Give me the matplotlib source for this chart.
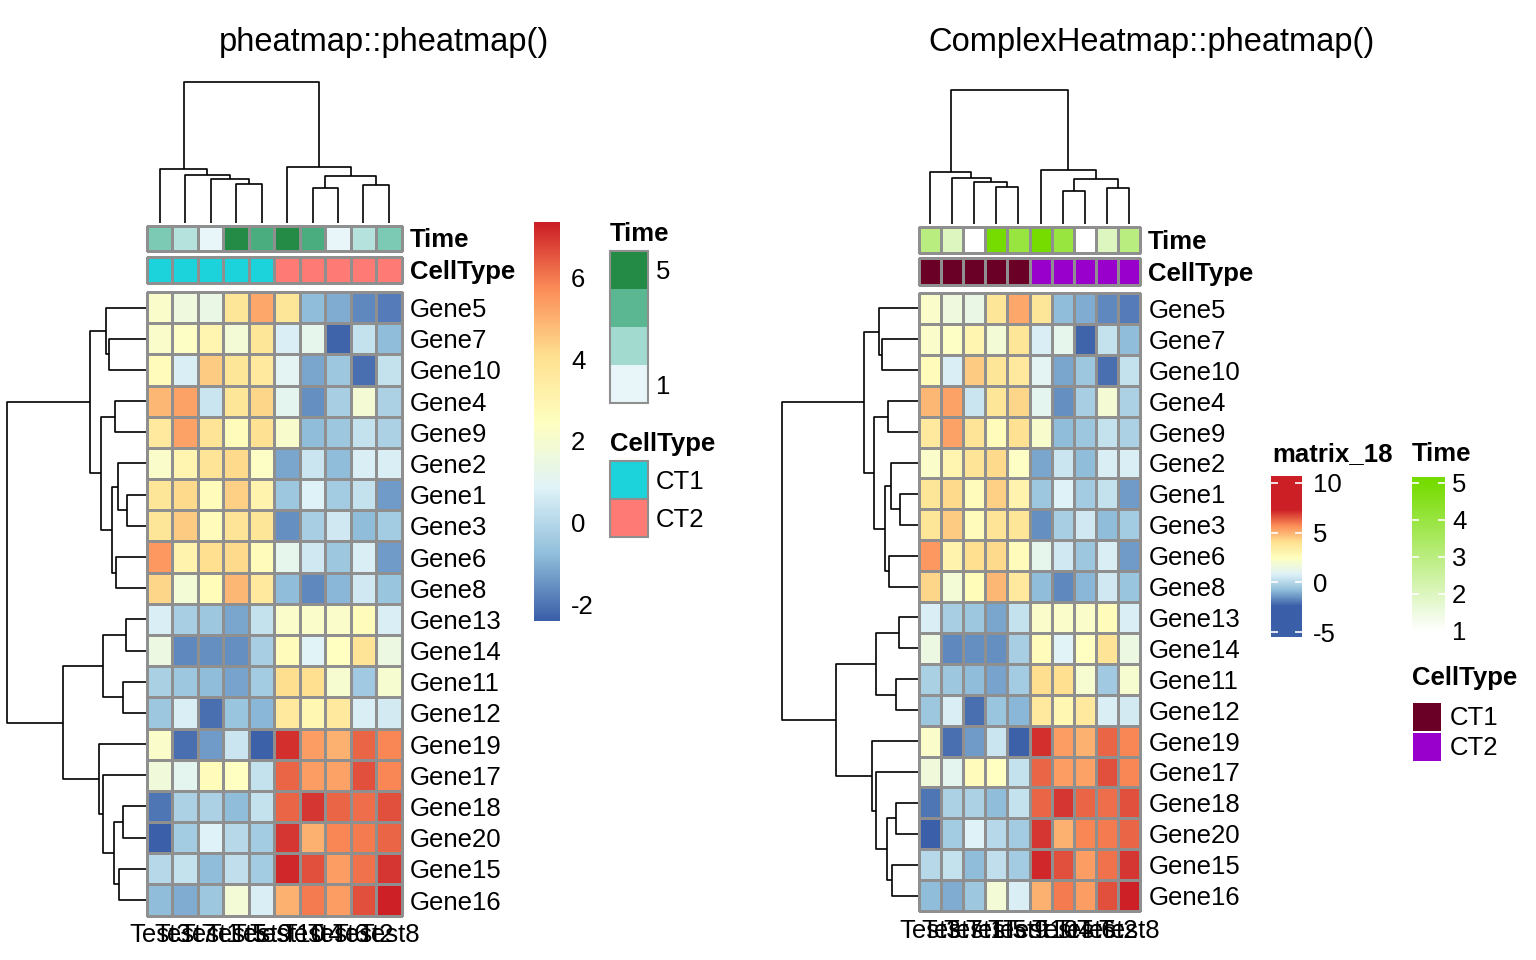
import numpy as np
import matplotlib
matplotlib.use('Agg')
import matplotlib.pyplot as plt
from matplotlib.colors import LinearSegmentedColormap, ListedColormap, Normalize
from matplotlib.patches import Rectangle

plt.rcParams['font.family'] = ['Liberation Sans', 'DejaVu Sans']

# data (rows/columns already in clustered display order)
genes = ['Gene5', 'Gene7', 'Gene10', 'Gene4', 'Gene9', 'Gene2', 'Gene1', 'Gene3', 'Gene6', 'Gene8',
         'Gene13', 'Gene14', 'Gene11', 'Gene12', 'Gene19', 'Gene17', 'Gene18', 'Gene20', 'Gene15', 'Gene16']
samples = ['Test3', 'Test7', 'Test1', 'Test5', 'Test9', 'Test10', 'Test4', 'Test6', 'Test2', 'Test8']
time = [3, 2, 1, 5, 4, 5, 4, 1, 2, 3]
cell_type = ['CT1', 'CT1', 'CT1', 'CT1', 'CT1', 'CT2', 'CT2', 'CT2', 'CT2', 'CT2']
cell_levels = ['CT1', 'CT2']

expr = np.array([
    [2.2, 1.6, 1.4, 3.8, 5.2, 3.8, -0.8, -1.1, -1.7, -1.9],
    [2.2, 2.3, 3.0, 1.8, 3.8, 0.7, 1.2, -2.3, 0.3, -0.8],
    [2.6, 0.7, 4.5, 3.8, 3.6, 1.0, -1.2, -0.5, -2.1, 0.3],
    [4.9, 5.3, 0.4, 3.8, 4.3, 1.1, -1.6, -0.3, 1.9, -0.2],
    [3.6, 5.3, 3.9, 2.6, 4.0, 2.1, -0.8, -0.5, 0.3, -0.2],
    [2.2, 3.0, 3.9, 4.2, 2.3, -1.2, 0.4, -0.8, 0.7, 0.7],
    [3.8, 4.2, 2.6, 4.4, 3.1, -0.5, 0.8, -0.4, 0.3, -1.4],
    [3.8, 4.5, 2.6, 3.9, 3.8, -1.6, -0.3, 0.5, -0.8, -0.4],
    [5.5, 3.1, 4.1, 4.2, 2.6, 1.2, 0.5, -0.5, 0.7, -1.4],
    [4.3, 1.8, 2.7, 4.9, 3.6, -0.8, -1.7, -0.9, 0.5, -0.6],
    [0.7, -0.3, -0.5, -1.2, 0.3, 2.2, 2.2, 2.2, 2.6, 0.7],
    [1.5, -1.7, -1.6, -1.6, -0.3, 2.6, 0.9, 2.4, 3.9, 1.5],
    [-0.25, -0.5, -0.8, -1.25, -0.4, 4.15, 4.1, 2.0, -0.45, 2.0],
    [-0.5, 0.7, -2.1, -0.6, -0.9, 3.6, 2.9, 3.6, 0.7, 0.6],
    [2.2, -2.1, -1.4, 0.4, -2.35, 7.1, 5.4, 5.0, 6.3, 5.8],
    [1.7, 1.1, 2.6, 2.4, 0.3, 6.3, 5.4, 5.3, 6.6, 5.8],
    [-2.0, -0.2, -0.2, -0.8, 0.3, 6.3, 7.0, 6.3, 6.2, 6.6],
    [-2.4, -0.4, 0.8, 0.0, -0.4, 7.0, 5.0, 5.8, 6.0, 6.3],
    [0.0, 0.3, -0.8, 0.2, -0.4, 7.2, 6.6, 5.4, 6.1, 7.0],
    [-0.8, -1.1, -0.5, 1.8, 0.7, 5.0, 6.0, 5.4, 6.6, 7.35],
])

# dendrograms as [left, right, height], leaves = display index
row_tree = [[[0, [1, 2, 37], 40],
             [[3, 4, 31], [[5, [6, 7, 19], 28], [8, 9, 30], 34], 45], 56],
            [[[10, 11, 20], [12, 13, 23], 43],
             [14, [15, [[16, 17, 23], [18, 19, 27], 32], 43], 47], 84], 140]
col_tree = [[0, [1, [2, [3, 4, 39], 44], 48], 54],
            [5, [[6, 7, 35], [8, 9, 38], 47], 56], 140]

time_ticks = [1, 2, 3, 4, 5]
left_bar_ticks = [-2, 0, 2, 4, 6]
right_bar_ticks = [-5, 0, 5, 10]

# colours
heat_cmap = LinearSegmentedColormap.from_list(
    'rdylbu', ['#3b5fa8', '#91BFDB', '#E0F3F8', '#FFFFBF', '#FEE090', '#FC8D59', '#cc1f26'])
heat_norm = Normalize(expr.min(), expr.max())
time_cmap_l = LinearSegmentedColormap.from_list(
    'bugn', ['#e8f6f9', '#b5e2dd', '#7ccab4', '#4aad80', '#238b45'])
time_cmap_r = LinearSegmentedColormap.from_list('grn', ['#ffffff', '#76dc00'])
time_norm = Normalize(1, 5)
ct_cols_l = ['#1dd3db', '#fd7b74']
ct_cols_r = ['#6b0026', '#9900cc']
grid_grey = '#8f8f8f'
fs = 18.5

W, H = 1536, 960
fig = plt.figure(figsize=(W / 100, H / 100), dpi=100)


def px_axes(x0, y0, x1, y1):
    return fig.add_axes([x0 / W, 1 - y1 / H, (x1 - x0) / W, (y1 - y0) / H])


def draw_tree(ax, node, orient):
    if isinstance(node, int):
        return node + 0.5, 0.0
    l, r, h = node
    pl, hl = draw_tree(ax, l, orient)
    pr, hr = draw_tree(ax, r, orient)
    pos = [pl, pl, pr, pr]
    hts = [hl, h, h, hr]
    if orient == 'top':
        ax.plot(pos, hts, color='black', lw=1.2, clip_on=False, solid_capstyle='butt')
    else:
        ax.plot(hts, pos, color='black', lw=1.2, clip_on=False, solid_capstyle='butt')
    return (pl + pr) / 2, h


def draw_heatmap(x0, x1, y0, y1, xpad):
    ax = px_axes(x0, y0, x1, y1)
    m = ax.pcolormesh(expr, cmap=heat_cmap, norm=heat_norm, edgecolors=grid_grey, linewidth=1.0)
    m.set_clip_on(False)
    ax.set_xlim(0, len(samples))
    ax.set_ylim(len(genes), 0)
    ax.set_xticks(np.arange(len(samples)) + 0.5, samples, fontsize=fs)
    ax.set_yticks(np.arange(len(genes)) + 0.5, genes, fontsize=fs)
    ax.yaxis.tick_right()
    ax.tick_params(axis='y', length=0, pad=6)
    ax.tick_params(axis='x', length=0, pad=xpad)
    for s in ax.spines.values():
        s.set_visible(False)


def draw_annotation(x0, x1, y0, y1, values, cmap, norm):
    ax = px_axes(x0, y0, x1, y1)
    m = ax.pcolormesh(np.array([values]), cmap=cmap, norm=norm, edgecolors=grid_grey, linewidth=1.0)
    m.set_clip_on(False)
    ax.set_xlim(0, len(values))
    ax.set_axis_off()


def draw_bar(x0, x1, y0, y1, lo, hi, cmap, norm, ticks, white_ticks, pad):
    ax = px_axes(x0, y0, x1, y1)
    v = np.linspace(lo, hi, 400)[:, None]
    ax.imshow(v, cmap=cmap, norm=norm, aspect='auto', origin='lower', extent=[0, 1, lo, hi])
    ax.set_ylim(lo, hi)
    ax.set_xticks([])
    ax.set_yticks(ticks, [str(t) for t in ticks], fontsize=fs)
    if white_ticks:
        ax.tick_params(axis='y', direction='in', color='white', length=5, width=1.2,
                       left=True, right=True, labelleft=False, labelright=True, pad=pad)
    else:
        ax.tick_params(axis='y', length=0, left=False, right=True,
                       labelleft=False, labelright=True, pad=pad)
    for s in ax.spines.values():
        s.set_visible(False)
    return ax


ct_codes = [cell_levels.index(c) for c in cell_type]

# ---- left: pheatmap ----
draw_heatmap(147, 401.7, 292, 915.6, 5)
draw_annotation(147, 401.7, 226, 251, time, time_cmap_l, time_norm)
draw_annotation(147, 401.7, 257, 283, ct_codes, ListedColormap(ct_cols_l), Normalize(0, 1))
ax = px_axes(147, 82, 401.7, 223)
draw_tree(ax, col_tree, 'top')
ax.set_xlim(0, len(samples)); ax.set_ylim(0, 140); ax.set_axis_off()
ax = px_axes(7, 292, 146, 915.6)
draw_tree(ax, row_tree, 'left')
ax.set_ylim(len(genes), 0); ax.set_xlim(140, 0); ax.set_axis_off()
draw_bar(534, 560, 222, 621, expr.min(), expr.max(), heat_cmap, heat_norm, left_bar_ticks, False, 8)

# ---- right: ComplexHeatmap ----
draw_heatmap(919, 1140, 293, 911, 6)
draw_annotation(919, 1140, 227, 253, time, time_cmap_r, time_norm)
draw_annotation(919, 1140, 258, 285, ct_codes, ListedColormap(ct_cols_r), Normalize(0, 1))
ax = px_axes(919, 90, 1140, 224)
draw_tree(ax, col_tree, 'top')
ax.set_xlim(0, len(samples)); ax.set_ylim(0, 140); ax.set_axis_off()
ax = px_axes(782, 293, 918, 911)
draw_tree(ax, row_tree, 'left')
ax.set_ylim(len(genes), 0); ax.set_xlim(140, 0); ax.set_axis_off()
draw_bar(1271, 1302, 476, 637, -5.5, 10.7, heat_cmap, heat_norm, right_bar_ticks, True, 8)
draw_bar(1412, 1445, 477, 632, 0.97, 5.16, time_cmap_r, time_norm, time_ticks, True, 5)

# ---- text and legend boxes ----
ov = fig.add_axes([0, 0, 1, 1])
ov.set_xlim(0, W); ov.set_ylim(H, 0); ov.set_axis_off()
ov.text(384, 42, 'pheatmap::pheatmap()', fontsize=23.5, ha='center', va='center')
ov.text(1152, 42, 'ComplexHeatmap::pheatmap()', fontsize=23.5, ha='center', va='center')
for x, names, ys in [(410, ['Time', 'CellType'], [240, 272]), (1148, ['Time', 'CellType'], [242, 274])]:
    for n, y in zip(names, ys):
        ov.text(x, y, n, fontsize=fs, fontweight='bold', ha='left', va='center')

# left legends
ov.text(610, 234, 'Time', fontsize=fs, fontweight='bold', ha='left', va='center')
for i, v in enumerate(np.linspace(time_ticks[-1], time_ticks[0], 4)):
    ov.add_patch(Rectangle((610, 251 + 38 * i), 38, 38, fc=time_cmap_l(time_norm(v)), ec='none'))
ov.add_patch(Rectangle((610, 251), 38, 152, fill=False, ec=grid_grey, lw=1.5))
ov.text(656, 272, str(time_ticks[-1]), fontsize=fs, ha='left', va='center')
ov.text(656, 387, str(time_ticks[0]), fontsize=fs, ha='left', va='center')
ov.text(610, 444, 'CellType', fontsize=fs, fontweight='bold', ha='left', va='center')
for i, (lev, c) in enumerate(zip(cell_levels, ct_cols_l)):
    ov.add_patch(Rectangle((610, 461 + 38 * i), 38, 38, fc=c, ec=grid_grey, lw=1.5))
    ov.text(656, 482 + 38 * i, lev, fontsize=fs, ha='left', va='center')

# right legends
ov.text(1272, 454, 'matrix_18', fontsize=fs, fontweight='bold', ha='left', va='center')
ov.text(1412, 454, 'Time', fontsize=fs, fontweight='bold', ha='left', va='center')
ov.text(1412, 678, 'CellType', fontsize=fs, fontweight='bold', ha='left', va='center')
for i, (lev, c) in enumerate(zip(cell_levels, ct_cols_r)):
    ov.add_patch(Rectangle((1413, 703 + 30 * i), 28, 28, fc=c, ec='none'))
    ov.text(1450, 718 + 30 * i, lev, fontsize=fs, ha='left', va='center')

fig.savefig('out.png', dpi=100)
